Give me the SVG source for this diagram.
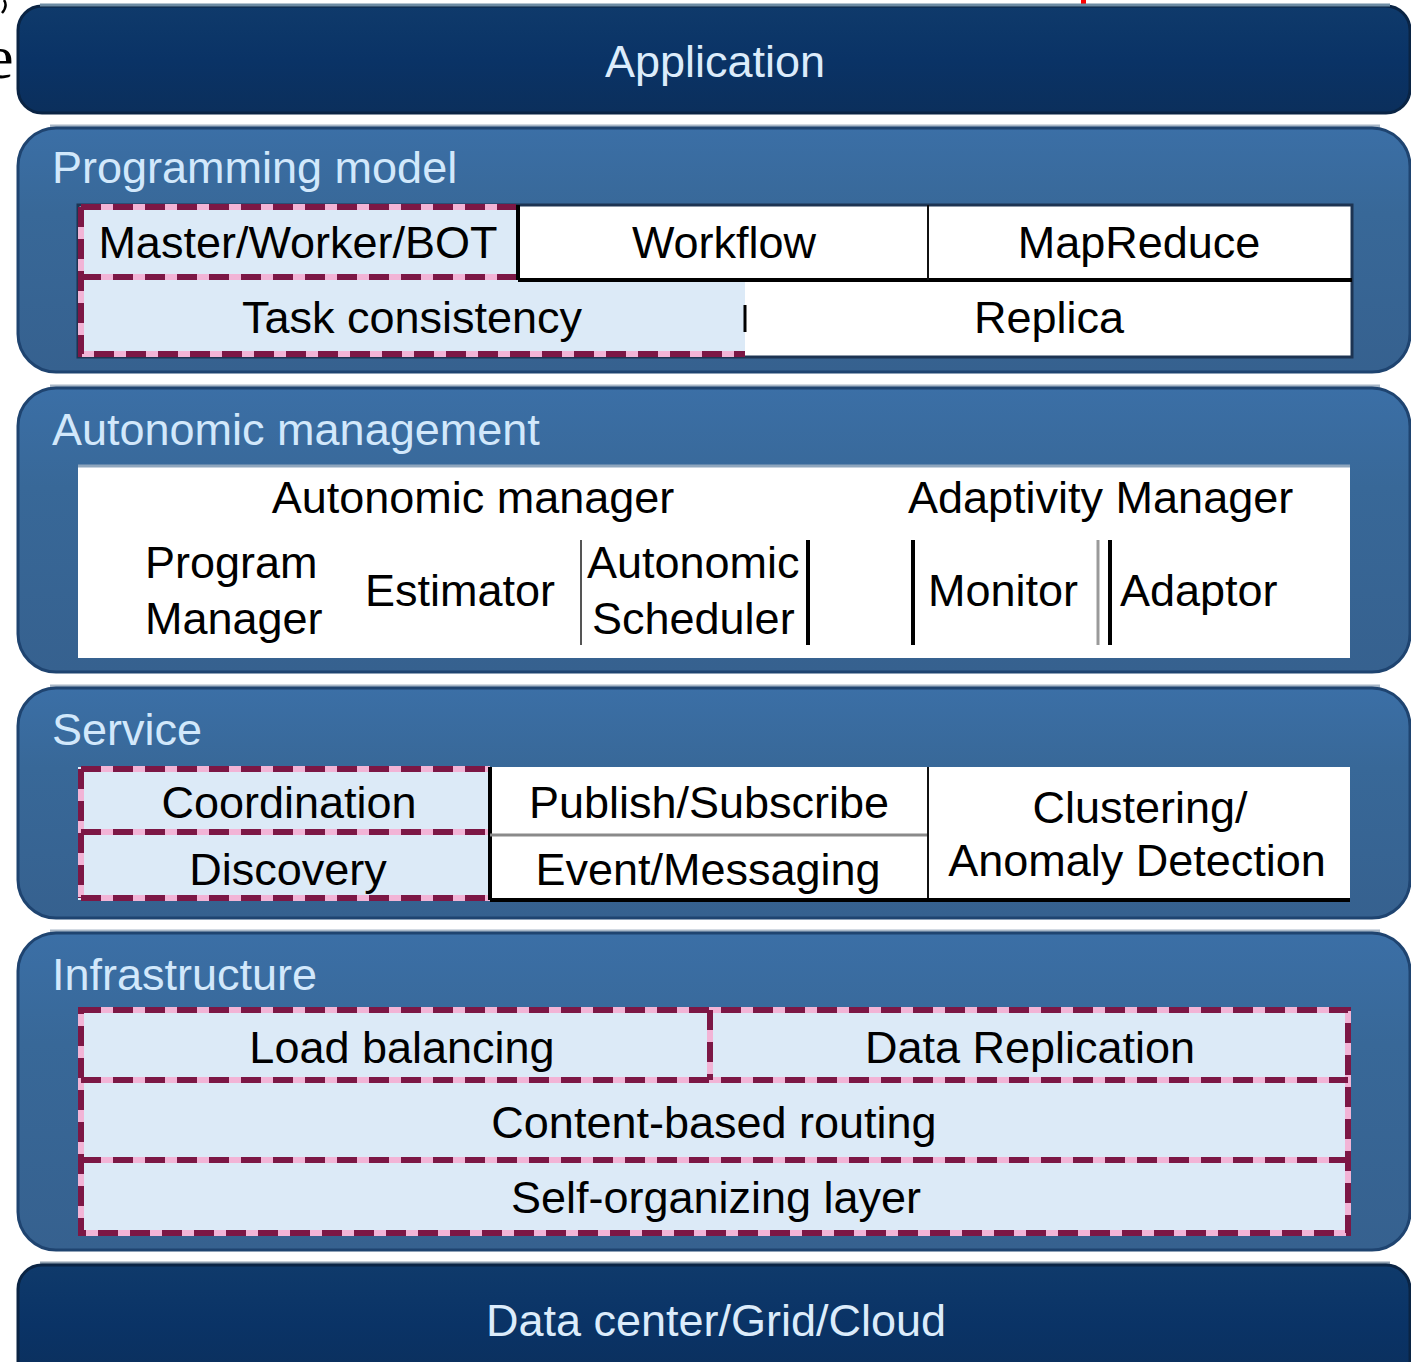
<svg xmlns="http://www.w3.org/2000/svg" width="1411" height="1362" viewBox="0 0 1411 1362">
  <defs>
    <linearGradient id="navy" x1="0" y1="0" x2="0" y2="1">
      <stop offset="0" stop-color="#0f3a6b"/>
      <stop offset="0.5" stop-color="#0a3366"/>
      <stop offset="1" stop-color="#0b2f5c"/>
    </linearGradient>
    <linearGradient id="panel" x1="0" y1="0" x2="0" y2="1">
      <stop offset="0" stop-color="#3b6fa6"/>
      <stop offset="0.35" stop-color="#386898"/>
      <stop offset="1" stop-color="#36618f"/>
    </linearGradient>
    <style>
      .bar { fill: url(#navy); stroke: #0a2444; stroke-width: 3; }
      .panel { fill: url(#panel); stroke: #1f4470; stroke-width: 3; }
      .rim { fill: none; stroke: #a7b6c6; stroke-width: 3; }
      .t { font-family: "Liberation Sans", Arial, sans-serif; font-size: 45px; fill: #000; }
      .mid { text-anchor: middle; }
      .head { font-family: "Liberation Sans", Arial, sans-serif; font-size: 45px; fill: #d2e8fb; }
      .bartext { font-family: "Liberation Sans", Arial, sans-serif; font-size: 45px; fill: #dcecfb; text-anchor: middle; }
      .cell { fill: #ffffff; }
      .soft { fill: #dceaf7; }
      .dashbg { stroke: #f2b4d6; stroke-width: 6; fill: none; }
      .dash { stroke: #7c1745; stroke-width: 6; fill: none; stroke-dasharray: 20 12; }
      .rule { stroke: #000; stroke-width: 4; fill: none; }
      .thin { stroke: #111; stroke-width: 2; fill: none; }
      .grey { stroke: #8a8a8a; stroke-width: 3; fill: none; }
      .frame { stroke: #1d3452; stroke-width: 3; fill: none; }
    </style>
  </defs>

  <rect width="1411" height="1362" fill="#ffffff"/>

  <!-- fragments of surrounding page content -->
  <text x="-14" y="78" font-family="'Liberation Serif', 'Times New Roman', serif" font-size="62" fill="#000">e</text>
  <path d="M4 0 Q8 6 2 13" stroke="#000" stroke-width="2.5" fill="none"/>
  <rect x="1081" y="0" width="5" height="5" fill="#ff0000"/>

  <!-- Application -->
  <g id="application">
    <rect class="bar" x="18" y="6" width="1392" height="107" rx="24"/>
    <line x1="40" y1="5" x2="1390" y2="5" stroke="#6d8ca4" stroke-width="3"/>
    <text class="bartext" x="715" y="77">Application</text>
  </g>

  <!-- Programming model -->
  <g id="programming-model">
    <line class="rim" x1="50" y1="126" x2="1380" y2="126"/>
    <rect class="panel" x="18" y="128" width="1392" height="244" rx="38"/>
    <text class="head" x="52" y="183">Programming model</text>
    <rect class="soft" x="78" y="205" width="440" height="75"/>
    <rect class="cell" x="518" y="205" width="834" height="75"/>
    <rect class="soft" x="78" y="280" width="667" height="77"/>
    <rect class="cell" x="745" y="280" width="607" height="77"/>
    <rect class="frame" x="78" y="205" width="1274" height="152"/>
    <!-- dashed outline of the consistency-related cells -->
    <path class="dashbg" d="M81 207 H516 M81 277 H516 M81 207 V354 H745"/>
    <path class="dash" d="M81 207 H516 M81 277 H516 M81 207 V354 H745"/>
    <line class="rule" x1="518" y1="205" x2="518" y2="280"/>
    <line class="rule" x1="518" y1="280" x2="1352" y2="280"/>
    <line class="thin" x1="928" y1="205" x2="928" y2="280"/>
    <line x1="745" y1="305" x2="745" y2="332" stroke="#000" stroke-width="3"/>
    <text class="t mid" x="298" y="258">Master/Worker/BOT</text>
    <text class="t mid" x="724" y="258">Workflow</text>
    <text class="t mid" x="1139" y="258">MapReduce</text>
    <text class="t mid" x="412" y="333">Task consistency</text>
    <text class="t mid" x="1049" y="333">Replica</text>
  </g>

  <!-- Autonomic management -->
  <g id="autonomic-management">
    <line class="rim" x1="50" y1="386" x2="1380" y2="386"/>
    <rect class="panel" x="18" y="388" width="1392" height="284" rx="38"/>
    <text class="head" x="52" y="445">Autonomic management</text>
    <rect class="cell" x="78" y="465" width="1272" height="193"/>
    <line x1="78" y1="466" x2="1350" y2="466" stroke="#8fa6bd" stroke-width="3"/>
    <text class="t mid" x="473" y="513">Autonomic manager</text>
    <text class="t" x="908" y="513">Adaptivity Manager</text>
    <text class="t" x="145" y="578">Program</text>
    <text class="t" x="145" y="634">Manager</text>
    <text class="t" x="365" y="606">Estimator</text>
    <line x1="581" y1="540" x2="581" y2="645" stroke="#555" stroke-width="2"/>
    <text class="t" x="587" y="578">Autonomic</text>
    <text class="t" x="592" y="634">Scheduler</text>
    <line class="rule" x1="808" y1="540" x2="808" y2="645"/>
    <line class="rule" x1="913" y1="540" x2="913" y2="645"/>
    <text class="t" x="928" y="606">Monitor</text>
    <line x1="1098" y1="540" x2="1098" y2="645" stroke="#9a9a9a" stroke-width="3"/>
    <line class="rule" x1="1110" y1="540" x2="1110" y2="645"/>
    <text class="t" x="1120" y="606">Adaptor</text>
  </g>

  <!-- Service -->
  <g id="service">
    <line class="rim" x1="50" y1="686" x2="1380" y2="686"/>
    <rect class="panel" x="18" y="688" width="1392" height="230" rx="38"/>
    <text class="head" x="52" y="745">Service</text>
    <rect class="soft" x="78" y="767" width="412" height="133"/>
    <rect class="cell" x="490" y="767" width="860" height="133"/>
    <path class="dashbg" d="M81 769 H490 M81 832 H490 M81 898 H490 M81 769 V898"/>
    <path class="dash" d="M81 769 H490 M81 832 H490 M81 898 H490 M81 769 V898"/>
    <line class="rule" x1="490" y1="767" x2="490" y2="900"/>
    <line class="grey" x1="490" y1="835" x2="928" y2="835"/>
    <line class="thin" x1="928" y1="767" x2="928" y2="900"/>
    <line class="rule" x1="490" y1="900" x2="1350" y2="900"/>
    <text class="t mid" x="289" y="818">Coordination</text>
    <text class="t mid" x="288" y="885">Discovery</text>
    <text class="t mid" x="709" y="818">Publish/Subscribe</text>
    <text class="t mid" x="708" y="885">Event/Messaging</text>
    <text class="t mid" x="1140" y="823">Clustering/</text>
    <text class="t mid" x="1137" y="876">Anomaly Detection</text>
  </g>

  <!-- Infrastructure -->
  <g id="infrastructure">
    <line class="rim" x1="50" y1="931" x2="1380" y2="931"/>
    <rect class="panel" x="18" y="933" width="1392" height="317" rx="38"/>
    <text class="head" x="52" y="990">Infrastructure</text>
    <rect class="soft" x="78" y="1008" width="1272" height="227"/>
    <path class="dashbg" d="M81 1010 H1348 V1233 H81 Z M81 1080 H1348 M81 1160 H1348 M710 1010 V1080"/>
    <path class="dash" d="M81 1010 H1348 V1233 H81 Z M81 1080 H1348 M81 1160 H1348 M710 1010 V1080"/>
    <text class="t mid" x="402" y="1063">Load balancing</text>
    <text class="t mid" x="1030" y="1063">Data Replication</text>
    <text class="t mid" x="714" y="1138">Content-based routing</text>
    <text class="t mid" x="716" y="1213">Self-organizing layer</text>
  </g>

  <!-- Data center/Grid/Cloud -->
  <g id="data-center">
    <line x1="40" y1="1263" x2="1390" y2="1263" stroke="#8fa0b0" stroke-width="3"/>
    <rect class="bar" x="18" y="1265" width="1392" height="120" rx="24"/>
    <text class="bartext" x="716" y="1336">Data center/Grid/Cloud</text>
  </g>

  <!-- no connectors in this layered stack -->
  <g id="connectors"/>
</svg>
